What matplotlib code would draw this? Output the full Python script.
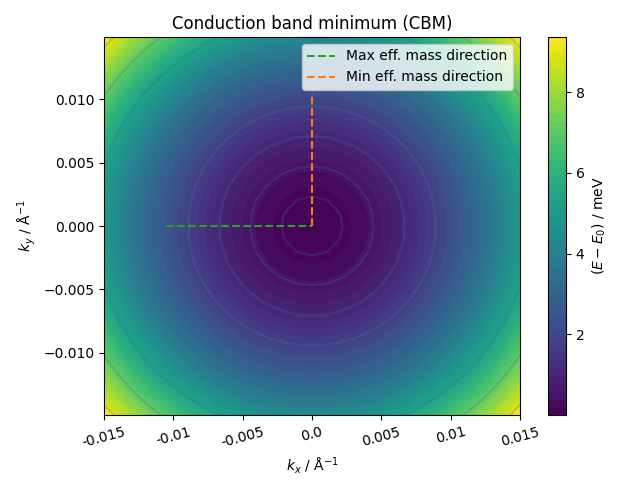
import numpy as np
import matplotlib
matplotlib.use("Agg")
import matplotlib.pyplot as plt

# k-grid (1/Angstrom)
kx_vals = np.linspace(-0.015, 0.015, 31)
ky_vals = np.linspace(-0.0149, 0.0149, 31)
# curvature coefficients (meV * Angstrom^2)
curv_x = 22100.0
curv_y = 19800.0
E_offset = 0.0

# contour line levels (meV)
line_levels = [0.11, 0.44, 0.99, 1.76, 2.75, 3.96, 5.39, 7.04, 8.91]

# effective-mass direction segments
max_dir_x = [-0.0105, 0.0]
max_dir_y = [0.0, 0.0]
min_dir_x = [0.0, 0.0]
min_dir_y = [0.0, 0.0105]

xtick_vals = [-0.015, -0.01, -0.005, 0.0, 0.005, 0.01, 0.015]

KX, KY = np.meshgrid(kx_vals, ky_vals)
E = E_offset + curv_x * KX**2 + curv_y * KY**2

fig = plt.figure(figsize=(6.4, 4.8), dpi=100)
ax = fig.add_axes([104/640, 65/480, 416/640, 378/480])
cax = fig.add_axes([548/640, 65/480, 18/640, 378/480])

levels = np.linspace(E.min(), E.max(), 50)
cf = ax.contourf(KX, KY, E, levels=levels, cmap="viridis")
ax.contour(KX, KY, E, levels=line_levels, colors="#3b6f9a", alpha=0.25, linewidths=1.5)

ax.plot(max_dir_x, max_dir_y, "--", color="C2", label="Max eff. mass direction")
ax.plot(min_dir_x, min_dir_y, "--", color="C1", label="Min eff. mass direction")

ax.set_xlim(kx_vals[0], kx_vals[-1])
ax.set_ylim(ky_vals[0], ky_vals[-1])
ax.set_xticks(xtick_vals)
ax.set_xticklabels([str(v) for v in xtick_vals], rotation=15)
ax.set_xlabel("$k_x$ / Å$^{-1}$")
ax.set_ylabel("$k_y$ / Å$^{-1}$")
ax.set_title("Conduction band minimum (CBM)")
ax.legend(loc="upper right")

cb = fig.colorbar(cf, cax=cax)
cb.set_ticks([2, 4, 6, 8])
cb.set_label("$(E - E_0)$ / meV")

fig.savefig("out.png", dpi=100)
